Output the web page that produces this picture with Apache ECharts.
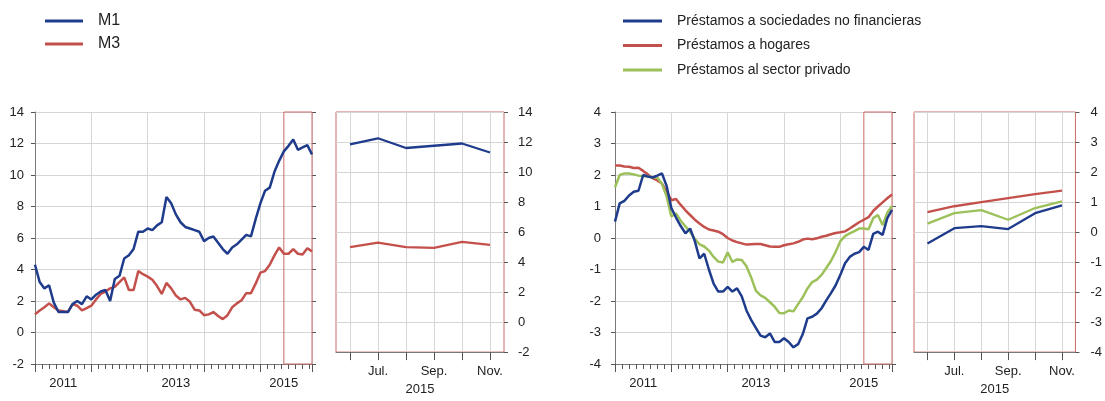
<!DOCTYPE html>
<html><head><meta charset="utf-8">
<script src="https://cdn.jsdelivr.net/npm/echarts@6/dist/echarts.min.js"></script>
<style>html,body{margin:0;padding:0;background:#fff}#c{width:1105px;height:401px}</style>
</head><body><div id="c"></div>
<script>
// Monthly categories: Dec 2010 .. Nov 2015 (60 months)
const months = [];
for (let k = 0; k < 60; k++) {
  const y = 2010 + Math.floor((11 + k) / 12);
  const m = (11 + k) % 12 + 1;
  months.push(y + '-' + String(m).padStart(2, '0'));
}
const yearLabelMonths = ['2011-06', '2013-06', '2015-05'];
const zoomMonths = ['2015-06', '2015-07', '2015-08', '2015-09', '2015-10', '2015-11'];
const zoomLabels = ['', 'Jul.', '', 'Sep.', '', 'Nov.'];
const zoomYear = '2015';

const m1 = [4.3, 3.2, 2.8, 3.0, 1.9, 1.3, 1.3, 1.3, 1.8, 2.0, 1.8, 2.3, 2.1, 2.4, 2.6, 2.7, 2.0, 3.4, 3.6, 4.7,
            4.9, 5.3, 6.4, 6.4, 6.6, 6.5, 6.8, 7.0, 8.6, 8.2, 7.5, 7.0, 6.7, 6.6, 6.5, 6.4, 5.8, 6.0, 6.1, 5.7,
            5.3, 5.0, 5.4, 5.6, 5.9, 6.2, 6.1, 7.2, 8.2, 9.0, 9.2, 10.2, 10.9, 11.5, 11.85, 12.25, 11.6, 11.75, 11.9, 11.3];
const m3 = [1.15, 1.4, 1.6, 1.85, 1.6, 1.4, 1.35, 1.3, 1.8, 1.7, 1.4, 1.55, 1.7, 2.1, 2.45, 2.6, 2.8, 2.9, 3.2, 3.5,
            2.7, 2.7, 3.9, 3.7, 3.55, 3.35, 2.95, 2.45, 3.15, 2.8, 2.35, 2.1, 2.2, 1.95, 1.45, 1.4, 1.1, 1.15, 1.3, 1.05,
            0.85, 1.1, 1.6, 1.85, 2.05, 2.5, 2.5, 3.1, 3.8, 3.9, 4.3, 4.9, 5.4, 5.0, 5.0, 5.3, 5.0, 4.95, 5.35, 5.15];

const nfc = [0.52, 1.1, 1.18, 1.35, 1.47, 1.5, 2.0, 1.95, 1.92, 1.98, 2.05, 1.65, 0.95, 0.65, 0.38, 0.15, 0.3, -0.1, -0.65, -0.5,
             -1.0, -1.45, -1.7, -1.7, -1.55, -1.7, -1.6, -1.85, -2.3, -2.6, -2.85, -3.1, -3.15, -3.03, -3.3, -3.3, -3.18, -3.3, -3.47, -3.37,
             -3.05, -2.55, -2.5, -2.4, -2.23, -1.98, -1.75, -1.5, -1.17, -0.8, -0.6, -0.5, -0.45, -0.28, -0.38, 0.13, 0.2, 0.1, 0.63, 0.89];
const hh = [2.3, 2.3, 2.27, 2.26, 2.22, 2.23, 2.13, 2.02, 1.9, 1.83, 1.73, 1.47, 1.2, 1.24, 1.05, 0.88, 0.73, 0.58, 0.46, 0.35,
            0.27, 0.24, 0.2, 0.12, 0.0, -0.08, -0.13, -0.17, -0.21, -0.2, -0.19, -0.19, -0.23, -0.27, -0.28, -0.28, -0.23, -0.2, -0.17, -0.12,
            -0.05, -0.02, -0.04, -0.01, 0.04, 0.07, 0.12, 0.16, 0.18, 0.21, 0.3, 0.4, 0.5, 0.58, 0.66, 0.86, 1.0, 1.13, 1.26, 1.38];
const priv = [1.61, 2.0, 2.05, 2.05, 2.02, 1.98, 1.96, 1.96, 1.93, 1.92, 1.72, 1.32, 0.68, 0.78, 0.55, 0.37, 0.2, -0.03, -0.2, -0.27,
              -0.4, -0.6, -0.75, -0.78, -0.45, -0.76, -0.68, -0.7, -0.9, -1.25, -1.67, -1.82, -1.9, -2.04, -2.18, -2.38, -2.39, -2.3, -2.33, -2.1,
              -1.88, -1.6, -1.4, -1.32, -1.17, -0.95, -0.73, -0.44, -0.1, 0.06, 0.15, 0.22, 0.3, 0.3, 0.28, 0.63, 0.73, 0.41, 0.8, 1.02];

const names1 = ['M1', 'M3'];
const names2 = ['Préstamos a sociedades no financieras', 'Préstamos a hogares', 'Préstamos al sector privado'];

const font = "'Liberation Sans', Arial, Helvetica, sans-serif";
const BLUE = '#1f3c8c', RED = '#c4504c', GREEN = '#9cc05a', BOX = '#c96a66';
const GRIDC = '#d6d6d6', AXC = '#7a7a7a', TXT = '#222';
const N = months.length;
const nz = zoomMonths.length;
const boxStart = N - nz - 1;

// panel layout
const TOP = 112, H = 252;
const P = [
  { left: 35, width: 277 },   // long, monetary
  { left: 336, width: 168 },  // zoom, monetary
  { left: 615, width: 277 },  // long, loans
  { left: 914, width: 169 }   // zoom, loans
];

function longX(g) {
  return [
    { gridIndex: g, type: 'value', position: 'bottom', min: 0, max: N - 1, interval: 12,
      axisLine: { show: true, onZero: false, lineStyle: { color: AXC } },
      axisTick: { show: true, length: 8, lineStyle: { color: '#555' } },
      minorTick: { show: true, splitNumber: 8, length: 5, lineStyle: { color: '#555' } },
      axisLabel: { show: false },
      splitLine: { show: true, lineStyle: { color: GRIDC } } },
    { gridIndex: g, type: 'category', position: 'bottom', boundaryGap: false, data: months,
      axisLine: { show: false, onZero: false }, axisTick: { show: false }, splitLine: { show: false },
      axisLabel: { interval: (i, v) => yearLabelMonths.includes(v), formatter: v => v.slice(0, 4),
        margin: 13, fontSize: 13, color: TXT, fontFamily: font } }
  ];
}
function shortX(g) {
  return { gridIndex: g, type: 'category', position: 'bottom', boundaryGap: true, data: zoomMonths,
    axisLine: { show: true, onZero: false, lineStyle: { color: AXC } },
    axisTick: { show: true, alignWithLabel: true, interval: 0, length: 8, lineStyle: { color: '#555' } },
    splitLine: { show: false },
    axisLabel: { interval: 0, formatter: (v, i) => zoomLabels[i], margin: 13, fontSize: 13, color: TXT, fontFamily: font },
    name: zoomYear, nameLocation: 'middle', nameGap: 25,
    nameTextStyle: { fontSize: 13, color: TXT, fontFamily: font } };
}
// helper value axis in half-month units: band edges at even values, month centres at odd values
function gridX(g) {
  return { gridIndex: g, type: 'value', position: 'bottom', min: 0, max: 2 * nz, interval: 2,
    axisLine: { show: false, onZero: false }, axisTick: { show: false }, axisLabel: { show: false },
    minorTick: { show: false, splitNumber: 2 },
    splitLine: { show: false },
    minorSplitLine: { show: true, lineStyle: { color: GRIDC, width: 1 } } };
}
function yAx(g, pos, min, max, itv, labels, margin, split, line) {
  return { gridIndex: g, type: 'value', position: pos, min: min, max: max, interval: itv,
    axisLine: { show: !!line, onZero: false, lineStyle: { color: AXC } },
    axisTick: { show: true, length: 4, lineStyle: { color: '#555' } },
    axisLabel: { show: labels, margin: margin, fontSize: 13, color: TXT, fontFamily: font },
    splitLine: { show: split, lineStyle: { color: GRIDC } } };
}
const box = { silent: true, itemStyle: { color: 'rgba(0,0,0,0)', borderColor: BOX, borderWidth: 1 },
  data: [[{ xAxis: boxStart }, { xAxis: N - 1 }]] };

function ln(name, color, xi, yi, data, w) {
  return { name: name, type: 'line', xAxisIndex: xi, yAxisIndex: yi, data: data,
    symbol: 'none', showSymbol: false, lineStyle: { width: w || 2.5, color: color }, itemStyle: { color: color },
    z: 3 };
}
const pairs = arr => arr.map((v, i) => [i, v]);
const last = arr => arr.slice(-nz);
const helper = (xi, yi) => ({ name: '_grid' + xi, type: 'line', xAxisIndex: xi, yAxisIndex: yi, data: [],
  silent: true, symbol: 'none', lineStyle: { width: 0 } });

const sM1 = ln('M1', BLUE, 0, 0, pairs(m1)); sM1.markArea = box;
const sNfc = ln(names2[0], BLUE, 3, 3, pairs(nfc)); sNfc.markArea = box;

const chart = echarts.init(document.getElementById('c'), null, { renderer: 'canvas' });
chart.setOption({
  animation: false,
  backgroundColor: '#fff',
  textStyle: { fontFamily: font },
  legend: [
    { data: names1, orient: 'vertical', left: 45, top: 11, padding: 0, icon: 'rect', itemWidth: 38, itemHeight: 3,
      itemGap: 3, selectedMode: false,
      textStyle: { fontSize: 16, lineHeight: 20, color: TXT, fontFamily: font, padding: [0, 0, 0, 10] } },
    { data: names2, orient: 'vertical', left: 623, top: 13, padding: 0, icon: 'rect', itemWidth: 39, itemHeight: 3,
      itemGap: 8.5, selectedMode: false,
      textStyle: { fontSize: 14, lineHeight: 16, color: TXT, fontFamily: font, padding: [0, 0, 0, 10] } }
  ],
  grid: [
    { left: P[0].left, top: TOP, width: P[0].width, height: H },
    { left: P[1].left, top: TOP, width: P[1].width, height: H, show: true, borderColor: BOX, borderWidth: 1, backgroundColor: 'rgba(0,0,0,0)' },
    { left: P[2].left, top: TOP, width: P[2].width, height: H },
    { left: P[3].left, top: TOP, width: P[3].width, height: H, show: true, borderColor: BOX, borderWidth: 1, backgroundColor: 'rgba(0,0,0,0)' }
  ],
  xAxis: [].concat(longX(0), [shortX(1)], longX(2), [shortX(3)], [gridX(1), gridX(3)]),
  yAxis: [
    yAx(0, 'left', -2, 14, 2, true, 11, true, true),
    yAx(0, 'right', -2, 14, 2, false, 8, false, false),
    yAx(1, 'right', -2, 14, 2, true, 14, true, false),
    yAx(2, 'left', -4, 4, 1, true, 14, true, true),
    yAx(2, 'right', -4, 4, 1, false, 8, false, false),
    yAx(3, 'right', -4, 4, 1, true, 15, true, false)
  ],
  series: [
    helper(6, 2),
    helper(7, 5),
    ln('M3', RED, 0, 0, pairs(m3)),
    sM1,
    ln('M3', RED, 2, 2, last(m3), 2.3),
    ln('M1', BLUE, 2, 2, last(m1), 2.3),
    ln(names2[1], RED, 3, 3, pairs(hh)),
    ln(names2[2], GREEN, 3, 3, pairs(priv)),
    sNfc,
    ln(names2[1], RED, 5, 5, last(hh), 2.3),
    ln(names2[2], GREEN, 5, 5, last(priv), 2.3),
    ln(names2[0], BLUE, 5, 5, last(nfc), 2.3)
  ]
});
</script></body></html>
